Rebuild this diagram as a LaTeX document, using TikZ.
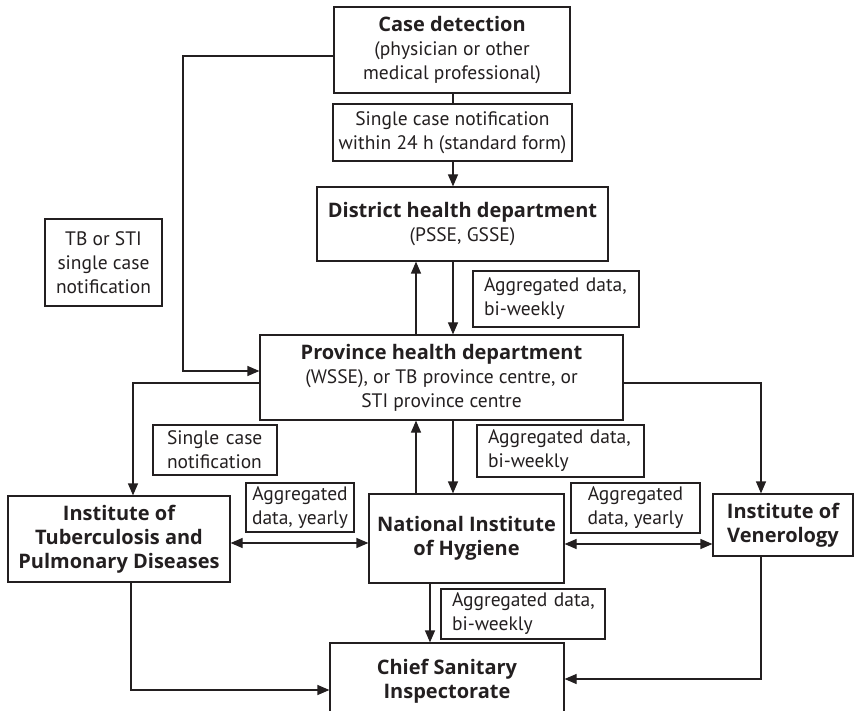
\documentclass[tikz,border=0pt]{standalone}
\usepackage{fontspec}
\setmainfont{PT Sans}
\newfontfamily\headfont{Open Sans}
\usetikzlibrary{arrows.meta}
\definecolor{ink}{HTML}{231F20}
\newcommand\hd[1]{{\headfont\bfseries\fontsize{20}{24}\selectfont #1}}
\begin{document}
\begin{tikzpicture}[x=1pt,y=-1pt,
  box/.style={draw=ink, text=ink, line width=1.2pt, inner sep=0pt, align=center,
    font=\fontsize{19.5}{24}\selectfont},
  lbox/.style={box, align=left, inner xsep=11pt},
  arr/.style={draw=ink, line width=1.2pt, -{Triangle[length=12pt,width=10pt]}},
  darr/.style={draw=ink, line width=1.2pt, {Triangle[length=12pt,width=10pt]}-{Triangle[length=12pt,width=10pt]}},
  ln/.style={draw=ink, line width=1.2pt}]
\path[use as bounding box] (0,0) rectangle (854,711);
\clip (0,0) rectangle (854,711);

\node[box, minimum width=236pt, minimum height=86pt] (case) at (452,50)
  {\hd{Case detection}\\(physician or other\\medical professional)};
\node[box, minimum width=239pt, minimum height=57pt] (lab1) at (452.5,132.5)
  {Single case notification\\within 24 h (standard form)};
\node[box, minimum width=291pt, minimum height=74pt] (district) at (462.5,224)
  {\hd{District health department}\\(PSSE, GSSE)};
\node[lbox, text width=144pt, minimum height=56pt] (agg1) at (556,299)
  {\mbox{Aggregated data,}\\bi-weekly};
\node[box, minimum width=117pt, minimum height=87pt] (tbsti) at (103.5,262.5)
  {TB or STI\\single case\\notification};
\node[box, minimum width=363pt, minimum height=85pt] (province) at (441.5,377.5)
  {\hd{Province health department}\\(WSSE), or TB province centre, or\\STI province centre};
\node[box, align=left, inner xsep=14pt, text width=96pt, minimum height=50pt] (single2) at (215,450)
  {\mbox{Single case}\\notification};
\node[lbox, text width=145pt, minimum height=52pt] (agg2) at (560.5,451)
  {\mbox{Aggregated data,}\\bi-weekly};
\node[box, minimum width=222pt, minimum height=86pt] (tbinst) at (119,539)
  {\hd{Institute of}\\\hd{Tuberculosis and}\\\hd{Pulmonary Diseases}};
\node[box, minimum width=195pt, minimum height=89pt] (national) at (466.5,538.5)
  {\hd{National Institute}\\\hd{of Hygiene}};
\node[box, minimum width=140pt, minimum height=62pt] (vener) at (783,525)
  {\hd{Institute of}\\\hd{Venerology}};
\node[box, minimum width=108pt, minimum height=49pt] (yearly1) at (300,507.5)
  {Aggregated\\data, yearly};
\node[box, minimum width=129pt, minimum height=50pt] (yearly2) at (635.5,508)
  {Aggregated\\data, yearly};
\node[lbox, text width=142pt, minimum height=50pt] (agg3) at (523,614)
  {\mbox{Aggregated data,}\\bi-weekly};
\node[box, minimum width=234pt, minimum height=76pt] (chief) at (447,681)
  {\hd{Chief Sanitary}\\\hd{Inspectorate}};

% connectors
\draw[ln] (case.south -| 453,0) -- (lab1.north -| 453,0);
\draw[arr] (lab1.south -| 453,0) -- (district.north -| 453,0);
\draw[arr] (province.north -| 416,0) -- (district.south -| 416,0);
\draw[arr] (district.south -| 453,0) -- (province.north -| 453,0);
\draw[arr] (case.west |- 0,56) -- (183,56) -- (183,371) -- (province.west |- 0,371);
\draw[arr] (province.west |- 0,383) -- (133,383) -- (tbinst.north -| 133,0);
\draw[arr] (province.east |- 0,383) -- (761,383) -- (vener.north -| 761,0);
\draw[arr] (national.north -| 416,0) -- (province.south -| 416,0);
\draw[arr] (province.south -| 453,0) -- (national.north -| 453,0);
\draw[darr] (tbinst.east |- 0,543) -- (national.west |- 0,543);
\draw[darr] (national.east |- 0,544) -- (vener.west |- 0,544);
\draw[arr] (national.south -| 430,0) -- (chief.north -| 430,0);
\draw[arr] (tbinst.south -| 131,0) -- (131,690) -- (chief.west |- 0,690);
\draw[arr] (vener.south -| 761,0) -- (761,679) -- (chief.east |- 0,679);
\end{tikzpicture}
\end{document}
